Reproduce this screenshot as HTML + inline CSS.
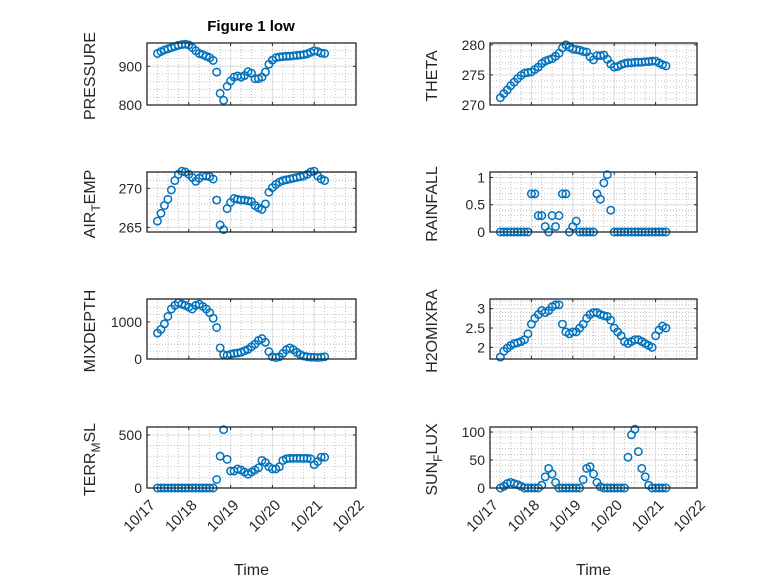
<!DOCTYPE html>
<html><head><meta charset="utf-8"><style>
html,body{margin:0;padding:0;background:#fff;}
svg{display:block;font-family:"Liberation Sans","DejaVu Sans",sans-serif;}
</style></head><body>
<svg id="fig" width="778" height="583" viewBox="0 0 778 583">
<rect width="778" height="583" fill="#fff"/>
</svg>
<script>
const dayOffsets = [];
for (let k = 0; k < 49; k++) dayOffsets.push(0.25 + k / 12);
const xTickLabels = ["10/17","10/18","10/19","10/20","10/21","10/22"];
const pressure = [933,938,942,945,948,951,954,956,957,955,948,940,933,930,926,922,915,885,830,812,848,862,872,875,872,876,886,882,868,868,872,885,905,916,922,924,925,926,926,927,928,929,930,932,936,940,938,934,933];
const theta = [271.2,271.9,272.5,273.2,273.8,274.4,274.9,275.3,275.4,275.5,275.9,276.3,276.9,277.3,277.5,277.7,278.1,278.6,279.5,280.0,279.6,279.3,279.2,279.1,278.9,278.8,278.0,277.5,278.2,278.2,278.3,277.6,276.8,276.3,276.4,276.7,276.9,277.0,277.0,277.1,277.1,277.1,277.2,277.2,277.3,277.3,277.0,276.7,276.5];
const airTemp = [265.8,266.8,267.8,268.6,269.8,271.0,271.8,272.2,272.1,271.8,271.4,270.9,271.3,271.6,271.6,271.5,271.2,268.5,265.3,264.7,267.4,268.2,268.7,268.6,268.5,268.5,268.4,268.3,267.8,267.5,267.3,268.0,269.5,270.1,270.5,270.8,271.0,271.1,271.2,271.3,271.4,271.5,271.6,271.8,272.1,272.2,271.6,271.2,271.0];
const rainfall = [0,0,0,0,0,0,0,0,0,0.7,0.7,0.3,0.3,0.1,0,0.3,0.1,0.3,0.7,0.7,0,0.1,0.2,0,0,0,0,0,0.7,0.6,0.9,1.05,0.4,0,0,0,0,0,0,0,0,0,0,0,0,0,0,0,0];
const mixDepth = [700,800,950,1150,1350,1450,1520,1480,1450,1400,1350,1450,1480,1420,1350,1250,1100,850,300,120,100,130,150,160,180,220,260,330,400,500,550,450,200,60,40,60,150,250,300,250,180,120,80,60,50,50,40,50,60];
const h2oMix = [1.75,1.9,1.98,2.05,2.1,2.12,2.15,2.2,2.35,2.6,2.75,2.85,2.95,2.9,2.95,3.05,3.1,3.1,2.6,2.4,2.35,2.4,2.4,2.5,2.6,2.75,2.85,2.9,2.9,2.85,2.82,2.8,2.7,2.5,2.4,2.3,2.15,2.1,2.15,2.2,2.2,2.15,2.1,2.05,2.0,2.3,2.45,2.55,2.5];
const terrMsl = [0,0,0,0,0,0,0,0,0,0,0,0,0,0,0,0,0,80,300,550,270,160,160,180,170,150,130,150,170,190,260,240,200,180,180,200,260,275,280,280,280,280,280,280,275,220,250,290,290];
const sunFlux = [0,3,8,10,8,6,3,0,0,0,0,0,5,20,35,25,10,0,0,0,0,0,0,0,15,35,38,25,10,2,0,0,0,0,0,0,0,55,95,105,65,35,20,5,0,0,0,0,0];

const NS = "http://www.w3.org/2000/svg";
const svg = document.getElementById("fig");
function mk(tag, attrs, parent) {
  const e = document.createElementNS(NS, tag);
  for (const k in attrs) e.setAttribute(k, attrs[k]);
  (parent || svg).appendChild(e);
  return e;
}
const panels = [
  {name:"pressure", label:["PRESSURE"], data:pressure, x0:147, x1:356, y0:43, y1:105, lo:800, hi:960, ticks:[800,900], minor:20, col:0},
  {name:"theta", label:["THETA"], data:theta, x0:490, x1:697, y0:43, y1:105, lo:270, hi:280.3, ticks:[270,275,280], minor:1, col:1},
  {name:"air-temp", label:["AIR","T","EMP"], data:airTemp, x0:147, x1:356, y0:172, y1:232, lo:264.4, hi:272.1, ticks:[265,270], minor:1, col:0},
  {name:"rainfall", label:["RAINFALL"], data:rainfall, x0:490, x1:697, y0:172, y1:232, lo:0, hi:1.1, ticks:[0,0.5,1], minor:0.1, col:1},
  {name:"mixdepth", label:["MIXDEPTH"], data:mixDepth, x0:147, x1:356, y0:299, y1:359, lo:0, hi:1620, ticks:[0,1000], minor:200, col:0},
  {name:"h2omixra", label:["H2OMIXRA"], data:h2oMix, x0:490, x1:697, y0:299, y1:359, lo:1.7, hi:3.25, ticks:[2,2.5,3], minor:0.1, col:1},
  {name:"terr-msl", label:["TERR","M","SL"], data:terrMsl, x0:147, x1:356, y0:427, y1:488, lo:0, hi:575, ticks:[0,500], minor:100, col:0, bottom:true},
  {name:"sun-flux", label:["SUN","F","LUX"], data:sunFlux, x0:490, x1:697, y0:427, y1:488, lo:0, hi:109, ticks:[0,50,100], minor:10, col:1, bottom:true}
];
panels.forEach(p => {
  const g = mk("g", {});
  
  
  const xs = d => p.x0 + (p.x1 - p.x0) * d / 5;
  const ys = v => p.y1 - (p.y1 - p.y0) * (v - p.lo) / (p.hi - p.lo);
  for (let d = 0.25; d < 5; d += 0.25) {
    if (Math.abs(d - Math.round(d)) < 1e-6) continue;
    mk("line", {x1:xs(d), x2:xs(d), y1:p.y0, y2:p.y1, stroke:"#b4b4b4", "stroke-width":0.8, "stroke-dasharray":"1,2"}, g);
  }
  const start = Math.ceil(p.lo / p.minor) * p.minor;
  for (let v = start; v <= p.hi + 1e-9; v += p.minor) {
    if (p.ticks.some(t => Math.abs(t - v) < 1e-6)) continue;
    mk("line", {x1:p.x0, x2:p.x1, y1:ys(v), y2:ys(v), stroke:"#b4b4b4", "stroke-width":0.8, "stroke-dasharray":"1,2"}, g);
  }
  for (let d = 1; d < 5; d++) mk("line", {x1:xs(d), x2:xs(d), y1:p.y0, y2:p.y1, stroke:"#dcdcdc", "stroke-width":1}, g);
  p.ticks.forEach(t => mk("line", {x1:p.x0, x2:p.x1, y1:ys(t), y2:ys(t), stroke:"#dcdcdc", "stroke-width":1}, g));
  const sg = mk("g", {fill:"none", stroke:"#0072BD", "stroke-width":1.5}, g);
  
  
  p.data.forEach((v, i) => {
    const c = mk("circle", {cx:xs(dayOffsets[i]), cy:ys(v), r:3.7}, sg);
    
    
  });
  mk("rect", {x:p.x0, y:p.y0, width:p.x1 - p.x0, height:p.y1 - p.y0, fill:"none", stroke:"#262626", "stroke-width":1.3}, g);
  for (let d = 0; d <= 5; d++) {
    mk("line", {x1:xs(d), x2:xs(d), y1:p.y1, y2:p.y1 - 3, stroke:"#262626"}, g);
    mk("line", {x1:xs(d), x2:xs(d), y1:p.y0, y2:p.y0 + 3, stroke:"#262626"}, g);
  }
  p.ticks.forEach(t => {
    mk("line", {x1:p.x0, x2:p.x0 + 3, y1:ys(t), y2:ys(t), stroke:"#262626"}, g);
    mk("line", {x1:p.x1, x2:p.x1 - 3, y1:ys(t), y2:ys(t), stroke:"#262626"}, g);
    const tl = mk("text", {x:p.x0 - 5, y:ys(t) + 5, "text-anchor":"end", "font-size":14, fill:"#262626"}, g);
    tl.textContent = String(t);
    
    
  });
  const lx = p.col === 0 ? 95 : 437;
  const ly = (p.y0 + p.y1) / 2 + 2;
  const yl = mk("text", {x:0, y:0, "text-anchor":"middle", "font-size":16, fill:"#262626", transform:`translate(${lx},${ly}) rotate(-90)`}, g);
  
  
  if (p.label.length === 1) yl.textContent = p.label[0];
  else {
    const a = mk("tspan", {}, yl); a.textContent = p.label[0];
    const b = mk("tspan", {dy:5, "font-size":12}, yl); b.textContent = p.label[1];
    const c = mk("tspan", {dy:-5}, yl); c.textContent = p.label[2];
  }
  if (p.bottom) {
    xTickLabels.forEach((s, d) => {
      const t = mk("text", {x:0, y:0, "text-anchor":"end", "font-size":15, fill:"#262626", transform:`translate(${xs(d) + 9},${p.y1 + 18}) rotate(-45)`}, g);
      t.textContent = s;
      
      
    });
    const xt = mk("text", {x:(p.x0 + p.x1) / 2, y:575, "text-anchor":"middle", "font-size":16, fill:"#262626"}, g);
    xt.textContent = "Time";
    
    
  }
});
const title = mk("text", {x:251, y:31, "text-anchor":"middle", "font-size":15, "font-weight":"bold", fill:"#000"});
title.textContent = "Figure 1 low";


</script>
</body></html>
